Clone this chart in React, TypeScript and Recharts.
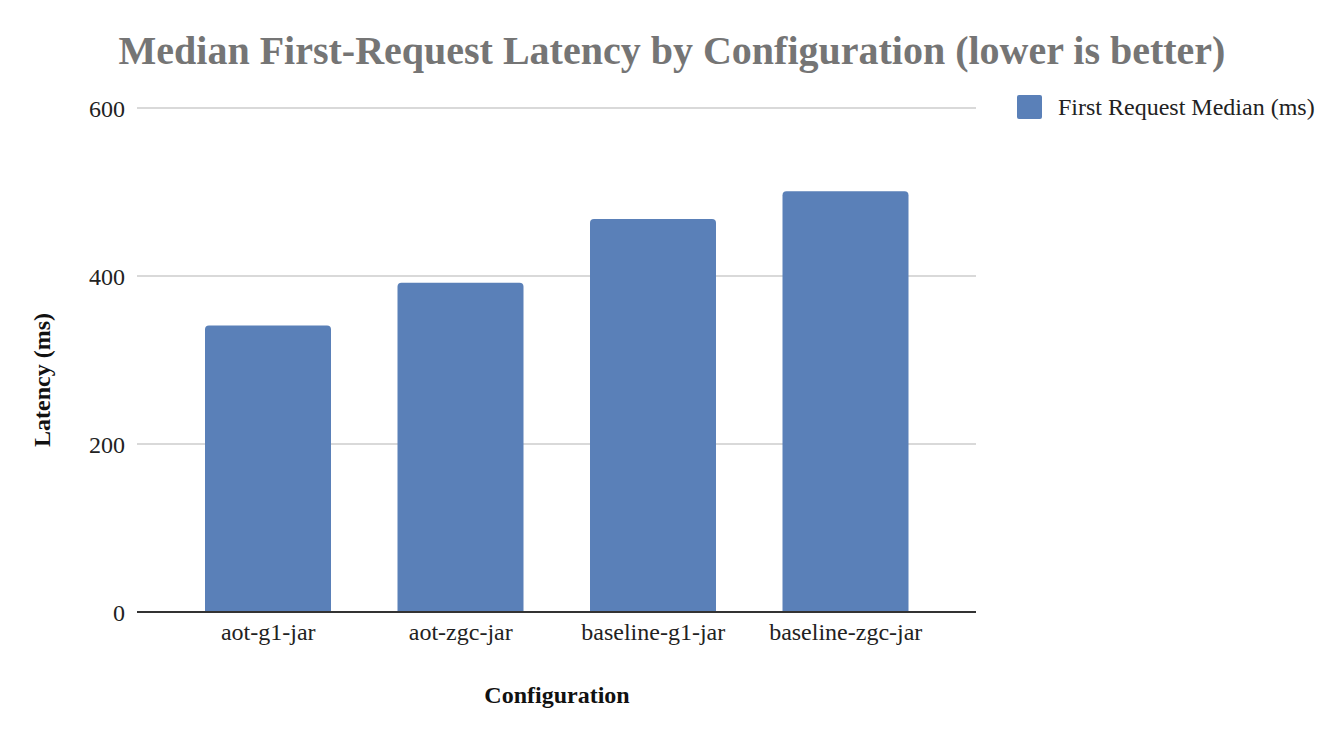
import { BarChart, Bar, XAxis, YAxis, CartesianGrid } from 'recharts';

// values
const configurations = ['aot-g1-jar', 'aot-zgc-jar', 'baseline-g1-jar', 'baseline-zgc-jar'];
const medianMs = [341, 392, 468, 501];
const yTicks = [0, 200, 400, 600];

const SERIES_NAME = 'First Request Median (ms)';
const BAR_COLOR = '#5a80b8';
const FONT = '"Liberation Serif", "Times New Roman", serif';

const data = configurations.map((name, i) => ({ name, value: medianMs[i] }));

export default function App() {
  return (
    <div style={{ position: 'absolute', left: 0, top: 0, width: 1344, height: 734, background: '#fff' }}>
      <BarChart
        width={1344}
        height={734}
        data={data}
        margin={{ top: 108, right: 368, bottom: 92, left: 77 }}
      >
        <text
          x={672}
          y={64}
          textAnchor="middle"
          fontFamily={FONT}
          fontSize={40}
          fontWeight="bold"
          fill="#757575"
        >
          Median First-Request Latency by Configuration (lower is better)
        </text>
        <CartesianGrid vertical={false} stroke="#cccccc" strokeWidth={1.5} />
        <XAxis
          dataKey="name"
          height={30}
          padding={{ left: 35, right: 34 }}
          axisLine={{ stroke: '#333', strokeWidth: 2 }}
          tickLine={false}
          tick={{ fontFamily: FONT, fontSize: 24, fill: '#222' }}
          tickMargin={5}
        />
        <YAxis
          width={60}
          domain={[0, 600]}
          ticks={yTicks}
          axisLine={false}
          tickLine={false}
          tick={{ fontFamily: FONT, fontSize: 24, fill: '#222' }}
          tickMargin={6}
        />
        <text
          x={557}
          y={703}
          textAnchor="middle"
          fontFamily={FONT}
          fontSize={24}
          fontWeight="bold"
          fill="#111"
        >
          Configuration
        </text>
        <text
          x={50}
          y={380}
          transform="rotate(-90 50 380)"
          textAnchor="middle"
          fontFamily={FONT}
          fontSize={24}
          fontWeight="bold"
          fill="#111"
        >
          Latency (ms)
        </text>
        {/* legend */}
        <rect x={1017} y={95} width={25} height={24} rx={2} fill={BAR_COLOR} />
        <text
          x={1058}
          y={107}
          dominantBaseline="central"
          fontFamily={FONT}
          fontSize={24}
          fill="#222"
        >
          {SERIES_NAME}
        </text>
        <Bar
          dataKey="value"
          name={SERIES_NAME}
          fill={BAR_COLOR}
          barSize={126}
          radius={[4, 4, 0, 0]}
          isAnimationActive={false}
        />
      </BarChart>
    </div>
  );
}
